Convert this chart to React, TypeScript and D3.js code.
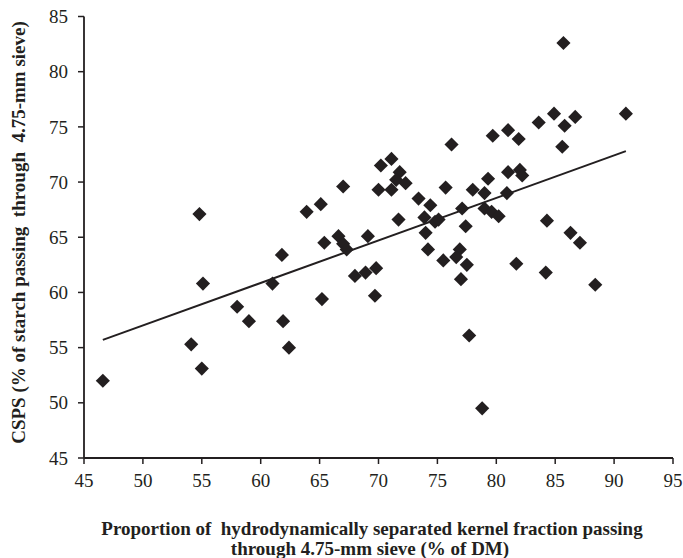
import React from "react";
import * as d3 from "d3";

const xValues = [
  46.6, 54.8, 55.1, 54.1, 55.0, 58.0, 59.0, 61.8, 61.0, 61.9, 62.4, 65.4, 65.2, 66.6, 67.0, 67.3,
  69.1, 68.0, 68.9, 69.8, 69.7, 63.9, 65.1, 67.0, 70.2, 71.1, 71.8, 72.3, 71.1, 70.0, 71.5, 73.4,
  74.4, 71.7, 73.9, 74.8, 75.1, 74.0, 74.2, 75.5, 76.9, 76.6, 77.5, 77.0, 77.7, 78.8, 76.2, 75.7,
  78.0, 79.0, 80.9, 79.3, 81.0, 82.0, 82.2, 77.1, 79.0, 79.6, 80.2, 77.4, 84.3, 81.7, 84.2, 88.4,
  86.3, 87.1, 85.7, 91.0, 84.9, 86.7, 83.6, 85.8, 85.6, 79.7, 81.0, 81.9,
];
const yValues = [
  52.0, 67.1, 60.8, 55.3, 53.1, 58.7, 57.4, 63.4, 60.8, 57.4, 55.0, 64.5, 59.4, 65.1, 64.4, 63.9,
  65.1, 61.5, 61.8, 62.2, 59.7, 67.3, 68.0, 69.6, 71.5, 72.1, 70.9, 69.9, 69.3, 69.3, 70.2, 68.5,
  67.9, 66.6, 66.8, 66.4, 66.6, 65.4, 63.9, 62.9, 63.9, 63.2, 62.5, 61.2, 56.1, 49.5, 73.4, 69.5,
  69.3, 69.0, 69.0, 70.3, 70.9, 71.1, 70.6, 67.6, 67.6, 67.3, 66.9, 66.0, 66.5, 62.6, 61.8, 60.7,
  65.4, 64.5, 82.6, 76.2, 76.2, 75.9, 75.4, 75.1, 73.2, 74.2, 74.7, 73.9,
];
const trendX = [46.6, 91.0];
const trendY = [55.7, 72.8];
const xTicks = [45, 50, 55, 60, 65, 70, 75, 80, 85, 90, 95];
const yTicks = [45, 50, 55, 60, 65, 70, 75, 80, 85];
const yTitle = "CSPS (% of starch passing  through  4.75-mm sieve)";
const xTitle1 = "Proportion of  hydrodynamically separated kernel fraction passing";
const xTitle2 = "through 4.75-mm sieve (% of DM)";

const INK = "#231f20";
const FONT = "'Liberation Serif', 'Times New Roman', serif";

export default function App() {
  const x = d3.scaleLinear().domain([45, 95]).range([84, 673]);
  const y = d3.scaleLinear().domain([45, 85]).range([458, 16.5]);
  const diamond = d3.symbol().type(d3.symbolSquare).size(100)() as string;
  const line = d3
    .line<number>()
    .x((_, i) => x(trendX[i]))
    .y((_, i) => y(trendY[i]));

  return (
    <svg
      width={683}
      height={558}
      style={{ position: "absolute", left: 0, top: 0, background: "#fff" }}
      fontFamily={FONT}
    >
      <rect width={683} height={558} fill="#fff" />
      {/* y axis */}
      <line x1={x(45)} x2={x(45)} y1={y(45)} y2={y(85)} stroke={INK} strokeWidth={1.8} />
      {yTicks.map((t) => (
        <g key={"y" + t}>
          <line x1={x(45) - 6} x2={x(45)} y1={y(t)} y2={y(t)} stroke={INK} strokeWidth={1.5} />
          <text x={68} y={y(t)} dy="0.35em" textAnchor="end" fontSize={19} fill={INK}>
            {t}
          </text>
        </g>
      ))}
      {/* x axis */}
      <line x1={x(45)} x2={x(95)} y1={y(45)} y2={y(45)} stroke={INK} strokeWidth={1.8} />
      {xTicks.map((t) => (
        <g key={"x" + t}>
          <line x1={x(t)} x2={x(t)} y1={y(45)} y2={y(45) + 6} stroke={INK} strokeWidth={1.5} />
          <text x={x(t)} y={487} textAnchor="middle" fontSize={19} fill={INK}>
            {t}
          </text>
        </g>
      ))}
      {/* trend line */}
      <path d={line(trendX) || ""} fill="none" stroke={INK} strokeWidth={2} />
      {/* points */}
      {xValues.map((xv, i) => (
        <path
          key={i}
          d={diamond}
          transform={`translate(${x(xv)},${y(yValues[i])}) rotate(45)`}
          fill={INK}
        />
      ))}
      {/* titles */}
      <text
        transform={`translate(25,232.5) rotate(-90)`}
        textAnchor="middle"
        fontSize={19}
        fontWeight="bold"
        fill={INK}
        style={{ whiteSpace: "pre" }}
      >
        {yTitle}
      </text>
      <text
        x={372}
        y={535}
        textAnchor="middle"
        fontSize={19}
        fontWeight="bold"
        fill={INK}
        style={{ whiteSpace: "pre" }}
      >
        {xTitle1}
      </text>
      <text
        x={370}
        y={555}
        textAnchor="middle"
        fontSize={19}
        fontWeight="bold"
        fill={INK}
        style={{ whiteSpace: "pre" }}
      >
        {xTitle2}
      </text>
    </svg>
  );
}
